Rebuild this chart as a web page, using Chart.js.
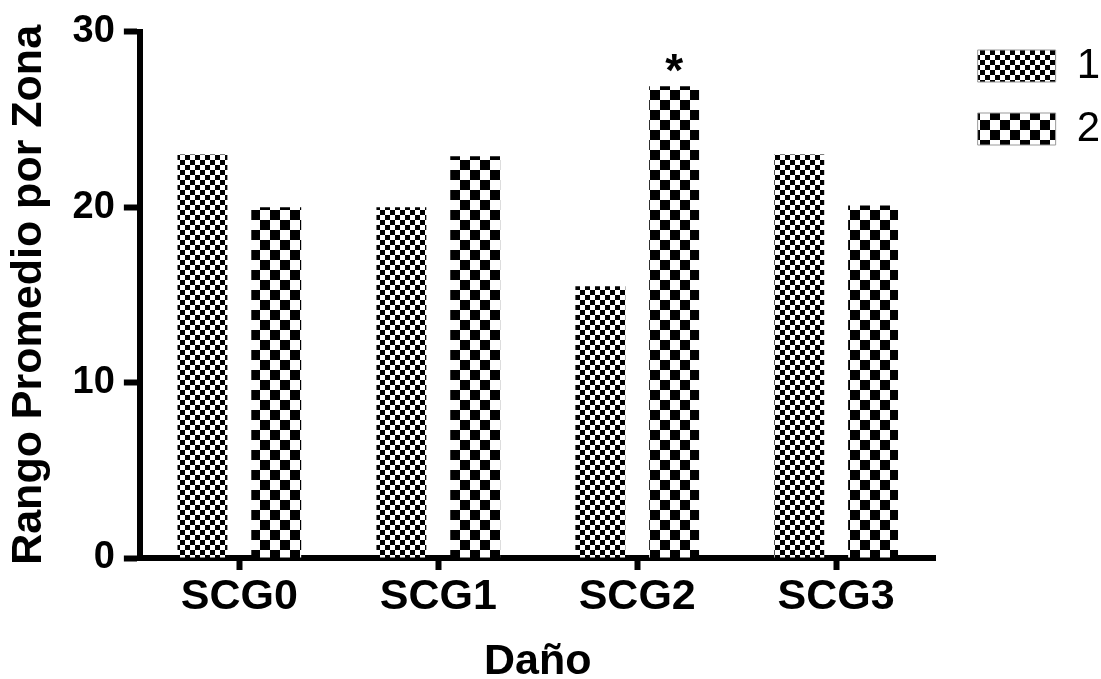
<!DOCTYPE html>
<html>
<head>
<meta charset="utf-8">
<script src="https://cdn.jsdelivr.net/npm/chart.js@4/dist/chart.umd.min.js"></script>
<style>
  html, body { margin: 0; padding: 0; background: #fff; }
  #wrap { width: 1101px; height: 679px; }
</style>
</head>
<body>
<div id="wrap"><canvas id="chart"></canvas></div>
<script>
'use strict';

// data
var categories = ['SCG0', 'SCG1', 'SCG2', 'SCG3'];
var seriesNames = ['1', '2'];
var zona1 = [23.0, 20.0, 15.5, 23.0];
var zona2 = [20.0, 22.9, 26.9, 20.1];
var zona2Marks = ['', '', '*', ''];
var yTicks = [0, 10, 20, 30];

var FONT = '"Liberation Sans", Arial, Helvetica, sans-serif';

//checkerboard fill, cell is the size of one square in px
function checker(cell) {
  var tile = document.createElement('canvas');
  tile.width = cell * 2;
  tile.height = cell * 2;
  var t = tile.getContext('2d');
  t.fillStyle = '#fff';
  t.fillRect(0, 0, cell * 2, cell * 2);
  t.fillStyle = '#000';
  t.fillRect(0, 0, cell, cell);
  t.fillRect(cell, cell, cell, cell);
  return t.createPattern(tile, 'repeat');
}

var fineFill = checker(5);
var coarseFill = checker(10);

//draws the little star above the significant bar
var starPlugin = {
  id: 'starPlugin',
  afterDatasetsDraw: function(chart) {
    var meta = chart.getDatasetMeta(1);
    var ctx = chart.ctx;
    ctx.save();
    ctx.fillStyle = '#000';
    ctx.font = 'bold 46px ' + FONT;
    ctx.textAlign = 'center';
    ctx.textBaseline = 'alphabetic';
    for (var i = 0; i < zona2Marks.length; i++) {
      if (!zona2Marks[i]) continue;
      var bar = meta.data[i];
      ctx.fillText(zona2Marks[i], bar.x, bar.y);
    }
    ctx.restore();
  }
};

//legend sits a bit further right and lower than chart.js puts it
var legendNudge = {
  id: 'legendNudge',
  afterLayout: function(chart) {
    var lg = chart.legend;
    lg.left += 21;
    lg.right += 21;
    lg.top += 16;
    lg.bottom += 16;
  }
};

var ctx = document.getElementById('chart').getContext('2d');
new Chart(ctx, {
  type: 'bar',
  data: {
    labels: categories,
    datasets: [
      {
        label: seriesNames[0],
        data: zona1,
        backgroundColor: fineFill,
        borderWidth: 0,
        categoryPercentage: 0.742,
        barPercentage: 0.676
      },
      {
        label: seriesNames[1],
        data: zona2,
        backgroundColor: coarseFill,
        borderWidth: 0,
        categoryPercentage: 0.742,
        barPercentage: 0.676
      }
    ]
  },
  options: {
    responsive: true,
    maintainAspectRatio: false,
    animation: false,
    layout: { padding: { top: 8, left: 0, right: 12, bottom: -5 } },
    plugins: {
      tooltip: { enabled: false },
      legend: {
        position: 'right',
        align: 'start',
        labels: {
          boxWidth: 78,
          boxHeight: 32,
          padding: 21,
          color: '#000',
          font: { family: FONT, size: 42 },
          generateLabels: function(chart) {
            return chart.data.datasets.map(function(ds, i) {
              return {
                text: ds.label,
                fillStyle: ds.backgroundColor,
                strokeStyle: '#999',
                lineWidth: 1,
                datasetIndex: i,
                hidden: false
              };
            });
          }
        }
      }
    },
    scales: {
      x: {
        grid: {
          offset: false,
          drawOnChartArea: false,
          tickLength: 12,
          tickWidth: 6,
          tickColor: '#000'
        },
        border: { width: 6, color: '#000' },
        ticks: {
          color: '#000',
          padding: 6,
          font: { family: FONT, size: 43, weight: 'bold', lineHeight: 1 }
        },
        title: {
          display: true,
          text: 'Daño',
          color: '#000',
          padding: { top: 16, bottom: 0 },
          font: { family: FONT, size: 43, weight: 'bold', lineHeight: 1 }
        }
      },
      y: {
        min: 0,
        max: 30,
        afterBuildTicks: function(axis) {
          axis.ticks = yTicks.map(function(v) { return { value: v }; });
        },
        grid: {
          drawOnChartArea: false,
          tickLength: 16,
          tickWidth: 6,
          tickColor: '#000'
        },
        border: { width: 6, color: '#000' },
        ticks: {
          color: '#000',
          padding: 9,
          font: { family: FONT, size: 38, weight: 'bold' }
        },
        title: {
          display: true,
          text: 'Rango Promedio por Zona',
          color: '#000',
          padding: { top: 3, bottom: 9 },
          font: { family: FONT, size: 43, weight: 'bold' }
        }
      }
    }
  },
  plugins: [starPlugin, legendNudge]
});
</script>
</body>
</html>
